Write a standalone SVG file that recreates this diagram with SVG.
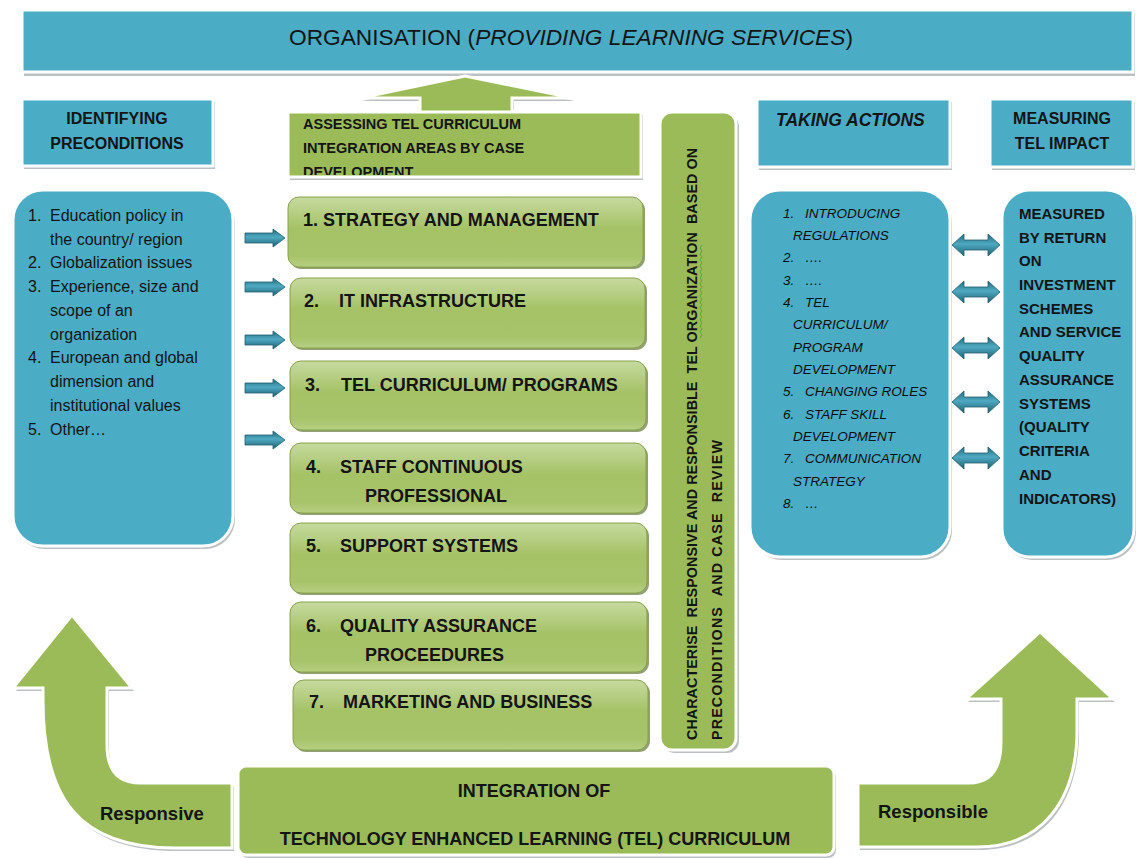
<svg xmlns="http://www.w3.org/2000/svg" width="1136" height="858" viewBox="0 0 1136 858">
<style>
.bg{fill:#ffffff}
.blue{fill:#4BACC6;stroke:#ffffff;stroke-width:3}
.green{fill:#9BBB59;stroke:#ffffff;stroke-width:3}
.sh{fill:#8e9699;opacity:.6}
.gsh{fill:#6d7f45;opacity:.75}
.gbox{fill:url(#gg);stroke:#86a34b;stroke-width:1}
.t{font-family:"Liberation Sans",Arial,sans-serif;fill:#141414}
.b{font-weight:bold}
.i{font-style:italic}
.head{font-size:16px;font-weight:bold;text-anchor:middle}
.lbl{font-size:18px;font-weight:bold}
.lst{font-size:16px}
.act{font-size:13.5px;font-style:italic;fill:#0d0d0d}
.mes{font-size:15px;font-weight:bold}
.arr{fill:url(#ag);stroke:#215e6e;stroke-width:.8}
.darr{fill:url(#ag);stroke:#215e6e;stroke-width:.8}
</style>
<defs>
<linearGradient id="gg" x1="0" y1="0" x2="0" y2="1">
<stop offset="0" stop-color="#c6da9f"/>
<stop offset="0.45" stop-color="#a5c266"/>
<stop offset="0.85" stop-color="#a8c46b"/>
<stop offset="1" stop-color="#b6cf83"/>
</linearGradient>
<linearGradient id="ag" x1="0" y1="0" x2="0" y2="1">
<stop offset="0" stop-color="#1f6b80"/>
<stop offset="0.45" stop-color="#4fa9c0"/>
<stop offset="1" stop-color="#1c6276"/>
</linearGradient>
<clipPath id="clipA"><rect x="288" y="112" width="353" height="63"/></clipPath>
</defs>
<rect class="bg" x="0" y="0" width="1136" height="858"/>

<g id="organisation">
<rect class="sh" x="24" y="14" width="1111" height="62"/>
<rect class="blue" x="22" y="10" width="1111" height="62"/>
<text class="t" x="289" y="45" font-size="22.7">ORGANISATION (<tspan class="i">PROVIDING LEARNING SERVICES</tspan>)</text>
</g>

<g id="identifying">
<rect class="sh" x="24" y="102" width="191" height="67"/>
<rect class="blue" x="22" y="99" width="191" height="67"/>
<text class="t head" x="117" y="124">IDENTIFYING</text>
<text class="t head" x="117" y="149">PRECONDITIONS</text>
</g>

<g id="assessing">
<polygon class="sh" points="466,79 575,101 514,101 514,116 422,116 422,101 362,101"/>
<polygon class="green" points="465,76 573,98 512,98 512,113 420,113 420,98 360,98"/>
<rect class="sh" x="290" y="115" width="353" height="65"/>
<rect class="green" x="288" y="112" width="353" height="65"/>
<g clip-path="url(#clipA)">
<text class="t b" x="303" y="129" font-size="14.5">ASSESSING TEL CURRICULUM</text>
<text class="t b" x="303" y="153" font-size="14.5">INTEGRATION AREAS BY CASE</text>
<text class="t b" x="303" y="177" font-size="14.5">DEVELOPMENT</text>
</g>
</g>

<g id="taking-actions">
<rect class="sh" x="759" y="102" width="193" height="68"/>
<rect class="blue" x="757" y="99" width="193" height="68"/>
<text class="t b i" x="776" y="126" font-size="17.5">TAKING ACTIONS</text>
</g>

<g id="measuring">
<rect class="sh" x="992" y="102" width="143" height="68"/>
<rect class="blue" x="990" y="99" width="143" height="68"/>
<text class="t head" x="1062" y="124">MEASURING</text>
<text class="t head" x="1062" y="149">TEL IMPACT</text>
</g>

<g id="preconditions">
<rect class="sh" x="15" y="193" width="220" height="356" rx="30"/>
<rect class="blue" x="13" y="190" width="220" height="356" rx="30"/>
<g class="t lst">
<text x="28" y="221">1.</text><text x="50" y="221">Education policy in</text>
<text x="50" y="245">the country/ region</text>
<text x="28" y="268">2.</text><text x="50" y="268">Globalization issues</text>
<text x="28" y="292">3.</text><text x="50" y="292">Experience, size and</text>
<text x="50" y="316">scope of an</text>
<text x="50" y="340">organization</text>
<text x="28" y="363">4.</text><text x="50" y="363">European and global</text>
<text x="50" y="387">dimension and</text>
<text x="50" y="411">institutional values</text>
<text x="28" y="435">5.</text><text x="50" y="435">Other…</text>
</g>
</g>

<g id="area1">
<rect class="gsh" x="290" y="199" width="355" height="70" rx="11"/>
<rect class="gbox" x="288" y="197" width="355" height="70" rx="11"/>
<text class="t lbl" x="303" y="226">1. STRATEGY AND MANAGEMENT</text>
</g>
<g id="area2">
<rect class="gsh" x="292" y="280" width="355" height="70" rx="11"/>
<rect class="gbox" x="290" y="278" width="355" height="70" rx="11"/>
<text class="t lbl" x="304" y="307">2.</text><text class="t lbl" x="339" y="307">IT INFRASTRUCTURE</text>
</g>
<g id="area3">
<rect class="gsh" x="292" y="363" width="356" height="69" rx="11"/>
<rect class="gbox" x="290" y="361" width="356" height="69" rx="11"/>
<text class="t lbl" x="305" y="391">3.</text><text class="t lbl" x="341" y="391">TEL CURRICULUM/ PROGRAMS</text>
</g>
<g id="area4">
<rect class="gsh" x="292" y="445" width="356" height="70" rx="11"/>
<rect class="gbox" x="290" y="443" width="356" height="70" rx="11"/>
<text class="t lbl" x="306" y="473">4.</text><text class="t lbl" x="340" y="473">STAFF CONTINUOUS</text>
<text class="t lbl" x="365" y="502">PROFESSIONAL</text>
</g>
<g id="area5">
<rect class="gsh" x="292" y="525" width="357" height="70" rx="11"/>
<rect class="gbox" x="290" y="523" width="357" height="70" rx="11"/>
<text class="t lbl" x="306" y="552">5.</text><text class="t lbl" x="340" y="552">SUPPORT SYSTEMS</text>
</g>
<g id="area6">
<rect class="gsh" x="292" y="604" width="357" height="70" rx="11"/>
<rect class="gbox" x="290" y="602" width="357" height="70" rx="11"/>
<text class="t lbl" x="306" y="632">6.</text><text class="t lbl" x="340" y="632">QUALITY ASSURANCE</text>
<text class="t lbl" x="365" y="661">PROCEEDURES</text>
</g>
<g id="area7">
<rect class="gsh" x="295" y="682" width="355" height="70" rx="11"/>
<rect class="gbox" x="293" y="680" width="355" height="70" rx="11"/>
<text class="t lbl" x="309" y="708">7.</text><text class="t lbl" x="343" y="708">MARKETING AND BUSINESS</text>
</g>

<g id="characterise">
<rect class="sh" x="663" y="115" width="76" height="638" rx="12"/>
<rect class="green" x="660" y="112" width="76" height="638" rx="12"/>
<text class="t b" xml:space="preserve" font-size="14.3" transform="translate(697,740) rotate(-90)" textLength="592" lengthAdjust="spacing">CHARACTERISE  RESPONSIVE AND RESPONSIBLE  TEL ORGANIZATION  BASED ON</text>
<text class="t b" xml:space="preserve" font-size="14.3" transform="translate(722,740) rotate(-90)" textLength="300" lengthAdjust="spacing">PRECONDITIONS  AND CASE  REVIEW</text>
<path d="M700,338 l2,-3 l-2,-3 l2,-3 l-2,-3 l2,-3 l-2,-3 l2,-3 l-2,-3 l2,-3 l-2,-3 l2,-3 l-2,-3 l2,-3 l-2,-3 l2,-3 l-2,-3 l2,-3 l-2,-3 l2,-3 l-2,-3 l2,-3 l-2,-3 l2,-3 l-2,-3 l2,-3 l-2,-3 l2,-3 l-2,-3 l2,-3 l-2,-3 l2,-3" fill="none" stroke="#5aa832" stroke-width="1"/>
</g>

<g id="actions">
<rect class="sh" x="752" y="193" width="200" height="367" rx="30"/>
<rect class="blue" x="750" y="190" width="200" height="367" rx="30"/>
<g class="t act">
<text x="783" y="218">1.</text><text x="805" y="218">INTRODUCING</text>
<text x="793" y="240">REGULATIONS</text>
<text x="783" y="262">2.</text><text x="805" y="262">….</text>
<text x="783" y="285">3.</text><text x="805" y="285">….</text>
<text x="783" y="307">4.</text><text x="805" y="307">TEL</text>
<text x="793" y="329">CURRICULUM/</text>
<text x="793" y="352">PROGRAM</text>
<text x="793" y="374">DEVELOPMENT</text>
<text x="783" y="396">5.</text><text x="805" y="396">CHANGING ROLES</text>
<text x="783" y="419">6.</text><text x="805" y="419">STAFF SKILL</text>
<text x="793" y="441">DEVELOPMENT</text>
<text x="783" y="463">7.</text><text x="805" y="463">COMMUNICATION</text>
<text x="793" y="486">STRATEGY</text>
<text x="783" y="508">8.</text><text x="805" y="508">…</text>
</g>
</g>

<g id="impact">
<rect class="sh" x="1004" y="193" width="132" height="367" rx="28"/>
<rect class="blue" x="1002" y="190" width="132" height="367" rx="28"/>
<g class="t mes">
<text x="1019" y="219">MEASURED</text>
<text x="1019" y="243">BY RETURN</text>
<text x="1019" y="266">ON</text>
<text x="1019" y="290">INVESTMENT</text>
<text x="1019" y="314">SCHEMES</text>
<text x="1019" y="337">AND SERVICE</text>
<text x="1019" y="361">QUALITY</text>
<text x="1019" y="385">ASSURANCE</text>
<text x="1019" y="409">SYSTEMS</text>
<text x="1019" y="432">(QUALITY</text>
<text x="1019" y="456">CRITERIA</text>
<text x="1019" y="480">AND</text>
<text x="1019" y="504">INDICATORS)</text>
</g>
</g>

<g id="integration">
<rect class="sh" x="240" y="769" width="596" height="89" rx="8"/>
<rect class="green" x="238" y="766" width="596" height="89" rx="8"/>
<text class="t b" x="534" y="797" font-size="18" text-anchor="middle">INTEGRATION OF</text>
<text class="t b" x="535" y="845" font-size="18" text-anchor="middle">TECHNOLOGY ENHANCED LEARNING (TEL) CURRICULUM</text>
</g>

<g id="responsive">
<path class="sh" d="M74,618 L134,691 L109,691 L109,748 C109,773 120,786 142,786 L234,786 L234,851 L177,851 C82,851 45,803 45,703 L45,691 L16,691 Z"/>
<path class="green" d="M72,615 L132,688 L107,688 L107,745 C107,770 118,783 140,783 L232,783 L232,848 L175,848 C80,848 43,800 43,700 L43,688 L13,688 Z"/>
<text class="t b" x="100" y="820" font-size="18.5">Responsive</text>
</g>

<g id="responsible">
<path class="sh" d="M1042,635 L1115,702 L1079,702 L1079,733 C1079,803 1044,850 979,850 L860,850 L860,786 L971,786 C995,786 1003,770 1003,745 L1003,702 L968,702 Z"/>
<path class="green" d="M1040,632 L1113,699 L1077,699 L1077,730 C1077,800 1042,847 977,847 L858,847 L858,783 L969,783 C993,783 1001,767 1001,742 L1001,699 L966,699 Z"/>
<text class="t b" x="878" y="818" font-size="18.5">Responsible</text>
</g>

<g id="connectors">
<path class="arr" d="M245,233 H273 V229 L285,238 L273,247 V243 H245 Z"/>
<path class="arr" d="M245,282 H273 V278 L285,287 L273,296 V292 H245 Z"/>
<path class="arr" d="M245,335 H273 V331 L285,340 L273,349 V345 H245 Z"/>
<path class="arr" d="M245,383 H273 V379 L285,388 L273,397 V393 H245 Z"/>
<path class="arr" d="M245,435 H273 V431 L285,440 L273,449 V445 H245 Z"/>
<path class="darr" d="M952,245 L964,234 V240 H988 V234 L1000,245 L988,256 V250 H964 V256 Z"/>
<path class="darr" d="M952,292 L964,281 V287 H988 V281 L1000,292 L988,303 V297 H964 V303 Z"/>
<path class="darr" d="M952,348 L964,337 V343 H988 V337 L1000,348 L988,359 V353 H964 V359 Z"/>
<path class="darr" d="M952,402 L964,391 V397 H988 V391 L1000,402 L988,413 V407 H964 V413 Z"/>
<path class="darr" d="M952,458 L964,447 V453 H988 V447 L1000,458 L988,469 V463 H964 V469 Z"/>
</g>
</svg>
